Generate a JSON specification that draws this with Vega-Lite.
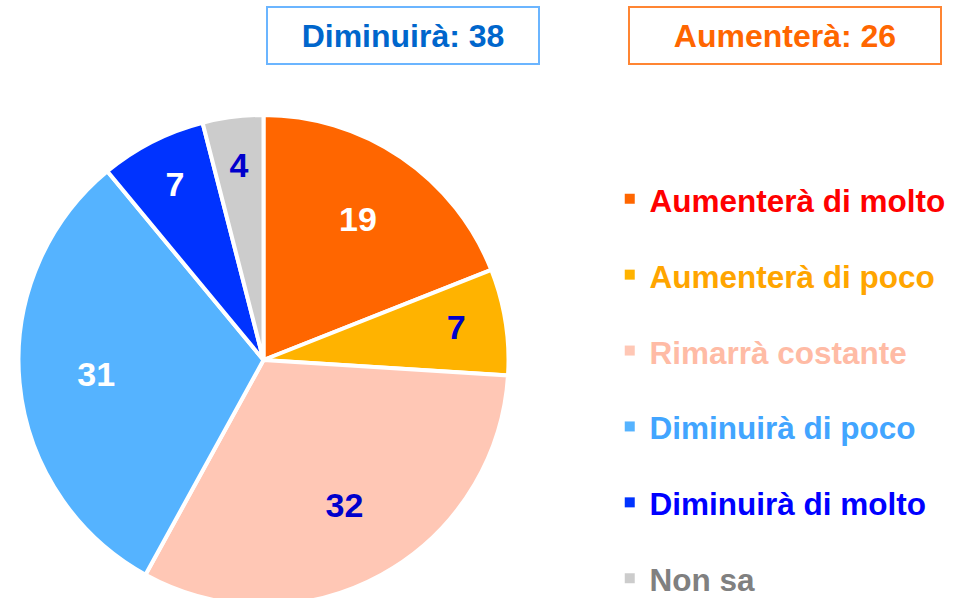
{
  "$schema": "https://vega.github.io/schema/vega-lite/v6.json",
  "padding": {"left": 0, "top": 6, "right": 0, "bottom": 0},
  "background": "white",
  "config": {"view": {"stroke": null}, "font": "Liberation Sans"},
  "datasets": {
    "risposte": [
      {"categoria": "Aumenterà di molto", "valore": 19, "ordine": 1},
      {"categoria": "Aumenterà di poco", "valore": 7, "ordine": 2},
      {"categoria": "Rimarrà costante", "valore": 32, "ordine": 3},
      {"categoria": "Diminuirà di poco", "valore": 31, "ordine": 4},
      {"categoria": "Diminuirà di molto", "valore": 7, "ordine": 5},
      {"categoria": "Non sa", "valore": 4, "ordine": 6}
    ],
    "riquadri": [
      {"gruppo": "Diminuirà", "testo": "Diminuirà: 38"},
      {"gruppo": "Aumenterà", "testo": "Aumenterà: 26"}
    ]
  },
  "vconcat": [
    {
      "hconcat": [
        {
          "width": 178, "height": 57,
          "data": {"values": [{"vuoto": ""}]},
          "mark": {"type": "text"},
          "encoding": {"text": {"field": "vuoto"}}
        },
        {
          "width": 272, "height": 57,
          "view": {"stroke": "#6BB5FF", "strokeWidth": 2},
          "data": {"name": "riquadri"},
          "transform": [{"filter": "datum.gruppo === 'Diminuirà'"}],
          "mark": {"type": "text", "fontSize": 32, "fontWeight": "bold", "color": "#0066CC", "baseline": "middle", "dy": 1},
          "encoding": {"text": {"field": "testo"}}
        },
        {
          "width": 312, "height": 57,
          "view": {"stroke": "#FF8533", "strokeWidth": 2},
          "data": {"name": "riquadri"},
          "transform": [{"filter": "datum.gruppo === 'Aumenterà'"}],
          "mark": {"type": "text", "fontSize": 32, "fontWeight": "bold", "color": "#FF6600", "baseline": "middle", "dy": 1},
          "encoding": {"text": {"field": "testo"}}
        }
      ],
      "spacing": 88
    },
    {
      "width": 527, "height": 560,
      "data": {"name": "risposte"},
      "encoding": {
        "theta": {"field": "valore", "type": "quantitative", "stack": true},
        "order": {"field": "ordine", "type": "quantitative"}
      },
      "layer": [
        {
          "mark": {"type": "arc", "outerRadius": 245, "stroke": "white", "strokeWidth": 4},
          "encoding": {
            "color": {
              "field": "categoria", "type": "nominal", "sort": null,
              "scale": {
                "domain": ["Aumenterà di molto", "Aumenterà di poco", "Rimarrà costante", "Diminuirà di poco", "Diminuirà di molto", "Non sa"],
                "range": ["#FF6600", "#FFB300", "#FFC7B5", "#55B3FF", "#0033FF", "#CCCCCC"]
              },
              "legend": {
                "title": null, "orient": "none", "legendX": 614, "legendY": 180,
                "symbolType": "M-1,-1.8H1V0.2H-1Z", "symbolSize": 100, "symbolStrokeWidth": 0,
                "labelFontSize": 31.5, "labelFont": "Liberation Sans", "labelFontWeight": "bold",
                "labelOffset": 4, "rowPadding": 42.9, "padding": 0, "labelLimit": 0,
                "labelColor": {"expr": "datum.label === 'Aumenterà di molto' ? '#FF0000' : datum.label === 'Aumenterà di poco' ? '#FFA500' : datum.label === 'Rimarrà costante' ? '#FFBBA5' : datum.label === 'Diminuirà di poco' ? '#42A5FF' : datum.label === 'Diminuirà di molto' ? '#0000FF' : '#808080'"}
              }
            }
          }
        },
        {
          "mark": {"type": "text", "radius": 168, "fontSize": 34, "fontWeight": "bold", "font": "Liberation Sans"},
          "encoding": {
            "detail": {"field": "categoria"},
            "text": {"condition": {"test": "datum.valore >= 19", "field": "valore"}, "value": ""},
            "color": {"condition": {"test": "datum.categoria === 'Aumenterà di poco' || datum.categoria === 'Rimarrà costante' || datum.categoria === 'Non sa'", "value": "#0000CC"}, "value": "white"}
          }
        },
        {
          "mark": {"type": "text", "radius": 195, "fontSize": 34, "fontWeight": "bold", "font": "Liberation Sans"},
          "encoding": {
            "detail": {"field": "categoria"},
            "text": {"condition": {"test": "datum.valore < 19", "field": "valore"}, "value": ""},
            "color": {"condition": {"test": "datum.categoria === 'Aumenterà di poco' || datum.categoria === 'Rimarrà costante' || datum.categoria === 'Non sa'", "value": "#0000CC"}, "value": "white"}
          }
        }
      ]
    }
  ],
  "spacing": 15
}
